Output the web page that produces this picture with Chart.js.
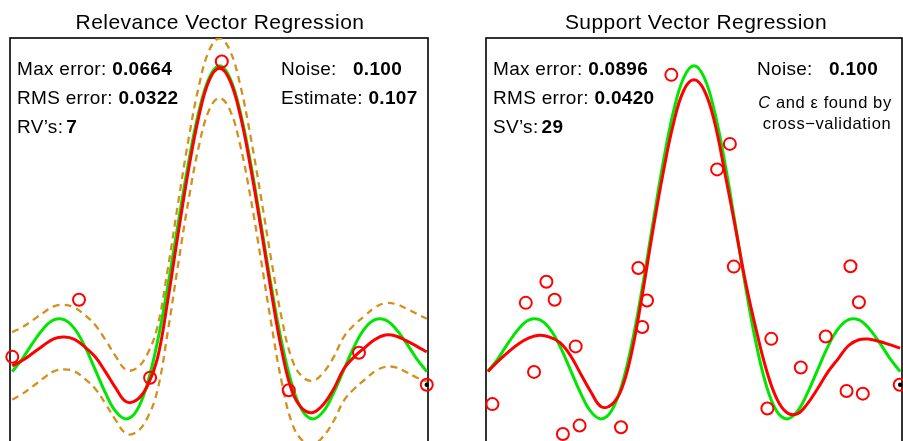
<!DOCTYPE html>
<html>
<head>
<meta charset="utf-8">
<script src="https://cdn.jsdelivr.net/npm/chart.js@4"></script>
<style>
html, body { margin:0; padding:0; background:#fff; overflow:hidden; width:903px; height:441px; }
#wrap { position:relative; width:903px; height:441px; overflow:hidden; font-family:"Liberation Sans", Arial, sans-serif; color:#000; }
canvas { position:absolute; top:0; }
.t { position:absolute; white-space:nowrap; }
.title { font-size:21px; line-height:21px; letter-spacing:0.45px; transform:translateX(-50%); }
.ann { font-size:19px; line-height:19px; letter-spacing:0.3px; }
.small { font-size:16.5px; line-height:16.5px; letter-spacing:0.6px; transform:translateX(-50%); }
</style>
</head>
<body>
<div id="wrap">
  <canvas id="rvm" width="450" height="480" style="left:0px"></canvas>
  <canvas id="svr" width="460" height="480" style="left:450px"></canvas>

  <div class="t title" style="left:220px; top:10.5px">Relevance Vector Regression</div>
  <div class="t ann" style="left:17px; top:59px">Max error: <b>0.0664</b></div>
  <div class="t ann" style="left:17px; top:88px">RMS error: <b>0.0322</b></div>
  <div class="t ann" style="left:17px; top:117px">RV’s:<b style="margin-left:3px">7</b></div>
  <div class="t ann" style="left:281px; top:59px">Noise:</div>
  <div class="t ann" style="left:353px; top:59px"><b>0.100</b></div>
  <div class="t ann" style="left:281px; top:88px">Estimate: <b>0.107</b></div>

  <div class="t title" style="left:696px; top:10.5px">Support Vector Regression</div>
  <div class="t ann" style="left:493px; top:59px">Max error: <b>0.0896</b></div>
  <div class="t ann" style="left:493px; top:88px">RMS error: <b>0.0420</b></div>
  <div class="t ann" style="left:493px; top:116.5px">SV’s:<b style="margin-left:3px">29</b></div>
  <div class="t ann" style="left:757px; top:59px">Noise:</div>
  <div class="t ann" style="left:829px; top:59px"><b>0.100</b></div>
  <div class="t small" style="left:825px; top:93.5px"><i>C</i> and ε found by</div>
  <div class="t small" style="left:827px; top:115px">cross−validation</div>
</div>
<script>
// x grid shared by all curves
const xs = [-10, -9.5, -9, -8.5, -8, -7.5, -7, -6.5, -6, -5.5, -5, -4.5, -4, -3.5, -3, -2.5, -2, -1.5, -1, -0.5,
            0, 0.5, 1, 1.5, 2, 2.5, 3, 3.5, 4, 4.5, 5, 5.5, 6, 6.5, 7, 7.5, 8, 8.5, 9, 9.5, 10];

// green: true function
const trueY = [-0.054, -0.008, 0.046, 0.094, 0.124, 0.125, 0.094, 0.033, -0.047, -0.128, -0.192, -0.217, -0.189, -0.100, 0.047, 0.239, 0.455, 0.665, 0.841, 0.959,
               1.000, 0.959, 0.841, 0.665, 0.455, 0.239, 0.047, -0.100, -0.189, -0.217, -0.192, -0.128, -0.047, 0.033, 0.094, 0.125, 0.124, 0.094, 0.046, -0.008, -0.054];

// left panel: RVM fit and error bars
const rvmY = [-0.034, -0.015, 0.010, 0.036, 0.059, 0.065, 0.057, 0.031, -0.003, -0.055, -0.112, -0.158, -0.152, -0.106, -0.010, 0.190, 0.420, 0.640, 0.825, 0.950,
              0.992, 0.950, 0.830, 0.650, 0.440, 0.220, 0.020, -0.122, -0.182, -0.195, -0.168, -0.115, -0.044, -0.003, 0.028, 0.057, 0.072, 0.069, 0.053, 0.034, 0.014];
const rvmUpper = [0.082, 0.100, 0.124, 0.149, 0.171, 0.176, 0.167, 0.141, 0.107, 0.055, -0.002, -0.048, -0.042, 0.004, 0.100, 0.298, 0.526, 0.745, 0.929, 1.053,
                  1.095, 1.053, 0.934, 0.756, 0.548, 0.330, 0.130, -0.012, -0.072, -0.085, -0.058, -0.005, 0.066, 0.107, 0.138, 0.167, 0.182, 0.179, 0.164, 0.146, 0.128];
const rvmLower = [-0.150, -0.130, -0.104, -0.077, -0.053, -0.046, -0.053, -0.079, -0.113, -0.165, -0.222, -0.268, -0.262, -0.216, -0.120, 0.082, 0.314, 0.535, 0.722, 0.848,
                  0.889, 0.848, 0.726, 0.545, 0.332, 0.110, -0.090, -0.232, -0.292, -0.305, -0.278, -0.225, -0.154, -0.113, -0.082, -0.053, -0.038, -0.039, -0.055, -0.074, -0.088];
const rvX = [-10.0, -6.78, -3.35, 0.11, 3.34, 6.73, 10.0];
const rvY = [-0.003, 0.194, -0.075, 1.015, -0.118, 0.011, -0.099];

// right panel: SVR fit
const svrY = [-0.053, -0.018, 0.014, 0.042, 0.062, 0.071, 0.065, 0.046, 0.002, -0.061, -0.124, -0.175, -0.168, -0.112, 0.020, 0.215, 0.430, 0.630, 0.800, 0.915,
              0.952, 0.915, 0.805, 0.630, 0.445, 0.255, 0.095, -0.045, -0.145, -0.195, -0.200, -0.165, -0.112, -0.055, -0.009, 0.036, 0.056, 0.058, 0.050, 0.039, 0.027];
const svX = [-1.10, 1.74, 1.12, -2.70, 1.93, -9.78, -8.16, -7.16, -6.76, -7.76, -5.74, -6.36, -5.55, -3.54, -2.28, -2.51,
             3.75, 3.56, 5.18, 6.39, 7.59, 8.00, 7.40, 8.19, 9.98];
const svY = [0.969, 0.731, 0.643, 0.303, 0.308, -0.166, 0.183, 0.256, 0.194, -0.055, 0.033, -0.269, -0.240, -0.246, 0.191, 0.100,
             0.059, -0.181, -0.040, 0.067, 0.309, 0.185, -0.121, -0.130, -0.099];

// point marked with a dot in both panels
const dotX = [10.0];
const dotY = [-0.099];

function pts(xv, yv) {
    return xv.map((x, i) => ({ x: x, y: yv[i] }));
}

const boxPlugin = {
    id: 'box',
    beforeDatasetsDraw(chart) {
        const a = chart.chartArea;
        const c = chart.ctx;
        c.save();
        c.strokeStyle = '#000';
        c.lineWidth = 1.6;
        c.strokeRect(a.left, a.top, a.right - a.left, a.bottom - a.top);
        c.restore();
    }
};

function lineSet(yv, color, width, dash, order) {
    return {
        data: pts(xs, yv),
        borderColor: color,
        borderWidth: width,
        borderDash: dash,
        pointRadius: 0,
        tension: 0.4,
        fill: false,
        order: order
    };
}

function circleSet(xv, yv) {
    return {
        data: pts(xv, yv),
        showLine: false,
        pointRadius: 6,
        pointBorderWidth: 2,
        pointBorderColor: '#ff0000',
        pointBackgroundColor: 'rgba(0,0,0,0)',
        clip: false,
        order: 1
    };
}

function dotSet() {
    return {
        data: pts(dotX, dotY),
        showLine: false,
        pointRadius: 2.2,
        pointBorderWidth: 0,
        pointBackgroundColor: '#000',
        clip: false,
        order: 0
    };
}

function opts(pad, xmin, xmax) {
    return {
        responsive: false,
        animation: false,
        devicePixelRatio: 1,
        layout: { padding: pad },
        plugins: {
            legend: { display: false },
            title: { display: false },
            tooltip: { enabled: false }
        },
        scales: {
            x: { type: 'linear', min: xmin, max: xmax, display: false },
            y: { type: 'linear', min: -0.4, max: 1.096, display: false }
        }
    };
}

new Chart(document.getElementById('rvm'), {
    type: 'line',
    data: {
        datasets: [
            lineSet(rvmUpper, '#d4901c', 2.3, [7, 5], 4),
            lineSet(rvmLower, '#d4901c', 2.3, [7, 5], 4),
            lineSet(trueY, '#00e600', 3, [], 3),
            lineSet(rvmY, '#ff0000', 3, [], 2),
            circleSet(rvX, rvY),
            dotSet()
        ]
    },
    options: opts({ left: 10, right: 22, top: 38, bottom: 6 }, -10.11, 10.06),
    plugins: [boxPlugin]
});

new Chart(document.getElementById('svr'), {
    type: 'line',
    data: {
        datasets: [
            lineSet(trueY, '#00e600', 3, [], 3),
            lineSet(svrY, '#ff0000', 3, [], 2),
            circleSet(svX, svY),
            dotSet()
        ]
    },
    options: opts({ left: 36, right: 6, top: 38, bottom: 6 }, -10.09, 10.09),
    plugins: [boxPlugin]
});
</script>
</body>
</html>
